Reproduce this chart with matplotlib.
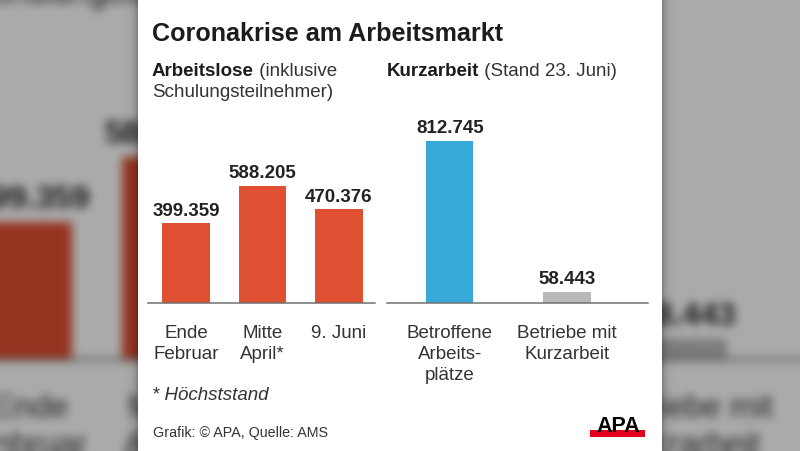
import numpy as np
import matplotlib
matplotlib.use("Agg")
import matplotlib.pyplot as plt
from matplotlib.patches import Rectangle

plt.rcParams['font.family'] = ['Liberation Sans', 'DejaVu Sans']

# ---------------- data ----------------
title = "Coronakrise am Arbeitsmarkt"
left_head_bold = "Arbeitslose"
left_head_rest = " (inklusive"
left_head_line2 = "Schulungsteilnehmer)"
right_head_bold = "Kurzarbeit"
right_head_rest = " (Stand 23. Juni)"
unemployed_categories = ["Ende\nFebruar", "Mitte\nApril*", "9. Juni"]
unemployed_values = [399359, 588205, 470376]
shorttime_categories = ["Betroffene\nArbeits-\nplätze", "Betriebe mit\nKurzarbeit"]
shorttime_values = [812745, 58443]
footnote = "* Höchststand"
source = "Grafik: © APA, Quelle: AMS"
logo = "APA"

# ---------------- style ----------------
W, H = 800, 452
RED = '#df4f31'
BLUE = '#37a9d8'
GREY_BAR = '#b9b9b9'
TXT = '#333333'
DARK = '#1c1c1c'


def fmt(v):
    return f"{v:,}".replace(",", ".")


def fx(x):
    return x / W


def fy(y):
    return 1 - y / H


def draw_panel(fig):
    renderer = fig.canvas.get_renderer()
    fig_w_px = fig.bbox.width

    fig.text(fx(152), fy(40.6), title, fontsize=18.1, fontweight='bold',
             color=DARK, va='baseline', zorder=3)

    for x, bold, rest in [(152, left_head_bold, left_head_rest),
                          (386.5, right_head_bold, right_head_rest)]:
        t = fig.text(fx(x), fy(76.4), bold, fontsize=13.5, fontweight='bold',
                     color=DARK, va='baseline', zorder=3)
        wpx = t.get_window_extent(renderer).width
        fig.text(fx(x) + wpx / fig_w_px, fy(76.4), rest, fontsize=13.5,
                 color=TXT, va='baseline', zorder=3)
    fig.text(fx(152), fy(97), left_head_line2, fontsize=13.5, color=TXT,
             va='baseline', zorder=3)

    ymax = (304.3 - 110) / 0.2 * 1000

    groups = [
        ([148, 375], (-0.5007, 2.474), unemployed_categories, unemployed_values,
         [RED] * 3, 0.625),
        ([387, 648], (-0.534, 1.688), shorttime_categories, shorttime_values,
         [BLUE, GREY_BAR], 0.404),
    ]
    for (x0, x1), xlim, cats, vals, cols, bw in groups:
        ax = fig.add_axes([fx(x0), fy(304.3), (x1 - x0) / W, (304.3 - 110) / H])
        ax.set_zorder(1)
        ax.patch.set_visible(False)
        xs = np.arange(len(vals))
        ax.bar(xs, vals, width=bw, color=cols, zorder=2)
        ax.set_xlim(*xlim)
        ax.set_ylim(0, ymax)
        for s in ['top', 'right', 'left']:
            ax.spines[s].set_visible(False)
        ax.spines['bottom'].set_color('#707070')
        ax.spines['bottom'].set_linewidth(1.1)
        ax.spines['bottom'].set_zorder(3)
        ax.set_xticks([])
        ax.set_yticks([])
        for i, v in enumerate(vals):
            ax.annotate(fmt(v), xy=(i, v), xytext=(0, 6), textcoords='offset points',
                        ha='center', va='baseline', fontsize=13.5, fontweight='bold',
                        color='#222222', annotation_clip=False)
        for i, lab in enumerate(cats):
            for k, line in enumerate(lab.split("\n")):
                ax.annotate(line, xy=(i, 0), xytext=(0, -(24.2 + 15.3 * k)),
                            textcoords='offset points', ha='center', va='baseline',
                            fontsize=13.5, color=TXT, annotation_clip=False)

    fig.text(fx(152), fy(399.9), footnote, fontsize=13.5, style='italic',
             color=TXT, va='baseline', zorder=3)
    fig.text(fx(152.7), fy(436.7), source, fontsize=10.3, color=TXT,
             va='baseline', zorder=3)

    fig.add_artist(Rectangle((fx(590), fy(438.3)), 55 / W, 7.3 / H,
                             transform=fig.transFigure, facecolor='#e3001b',
                             edgecolor='none', zorder=3))
    fig.text(fx(618.5), fy(432.2), logo, fontsize=15.5, fontweight='heavy',
             color='black', ha='center', va='baseline', zorder=4)


def box_blur(a, r, axis):
    pad = [(0, 0)] * a.ndim
    pad[axis] = (r + 1, r)
    p = np.pad(a, pad, mode='edge')
    c = np.cumsum(p, axis=axis)
    n = a.shape[axis]
    hi = np.take(c, np.arange(2 * r + 1, 2 * r + 1 + n), axis=axis)
    lo = np.take(c, np.arange(0, n), axis=axis)
    return (hi - lo) / (2 * r + 1)


def render_background():
    scale = 1.72
    f = plt.figure(figsize=(W / 100, H / 100), dpi=100 * scale, facecolor='white')
    draw_panel(f)
    f.canvas.draw()
    img = np.asarray(f.canvas.buffer_rgba())[..., :3].astype(float) / 255.0
    plt.close(f)
    y0, x0 = 163, 289
    crop = img[y0:y0 + H, x0:x0 + W].copy()
    for _ in range(3):
        crop = box_blur(crop, 4, 0)
        crop = box_blur(crop, 4, 1)
    crop *= 0.67
    xs = np.arange(W) + 0.5
    d = np.where(xs < 138, 138 - xs, np.where(xs > 662, xs - 662, np.inf))
    shade = 1 - 0.28 * np.exp(-d / 4.0)
    crop *= shade[None, :, None]
    return np.clip(crop, 0, 1)


bg = render_background()

fig = plt.figure(figsize=(W / 100, H / 100), dpi=100, facecolor='white')
bg_ax = fig.add_axes([0, 0, 1, 1])
bg_ax.set_zorder(-5)
bg_ax.imshow(bg, aspect='auto', interpolation='bilinear', extent=(0, 1, 0, 1))
bg_ax.set_xlim(0, 1)
bg_ax.set_ylim(0, 1)
bg_ax.axis('off')

fig.add_artist(Rectangle((fx(138), 0), (662 - 138) / W, 1,
                         transform=fig.transFigure, facecolor='white',
                         edgecolor='none', zorder=-4))

draw_panel(fig)

fig.savefig('out.png', dpi=100)
